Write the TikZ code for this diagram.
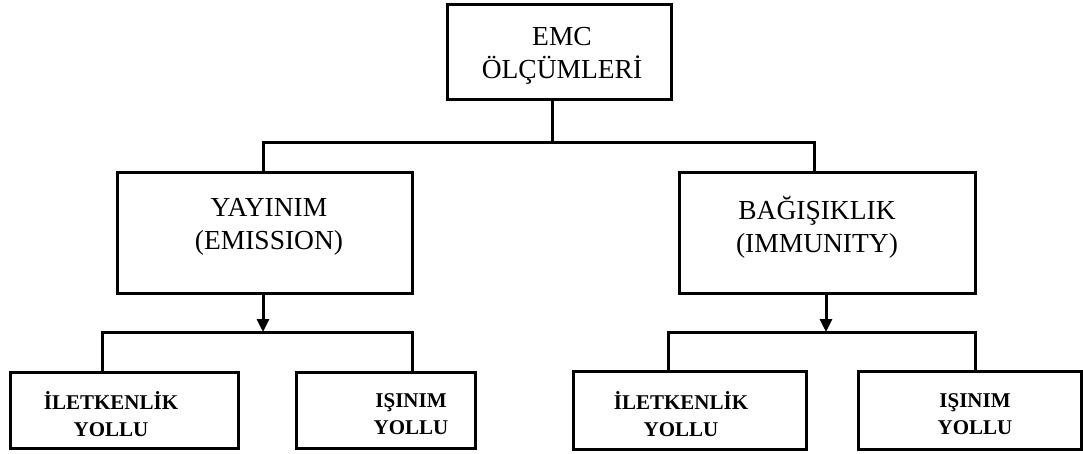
\documentclass[tikz,border=0pt]{standalone}
\usepackage{fontspec}
\setmainfont{Liberation Serif}
\usetikzlibrary{arrows.meta}

\tikzset{
  box/.style={draw=black, line width=3pt, rectangle, inner sep=0pt},
  plain/.style={font=\fontsize{27.5}{33}\selectfont, align=center, inner sep=0pt},
  boldtxt/.style={font=\fontsize{21}{27}\selectfont\bfseries, align=center, inner sep=0pt},
  wire/.style={line width=3pt, line cap=rect},
  arrow/.style={line width=3pt, -{Triangle[width=12pt,length=13pt]}}
}

\begin{document}
\begin{tikzpicture}[x=1pt, y=-1pt]
  \useasboundingbox[fill=white] (0,0) rectangle (1083,454);

  % boxes
  \node[box, minimum width=224pt, minimum height=95pt] (top) at (559,52.5) {};
  \node[box, minimum width=295pt, minimum height=120pt] (ym) at (264.5,233) {};
  \node[box, minimum width=296pt, minimum height=120pt] (rm) at (827,233) {};
  \node[box, minimum width=228pt, minimum height=76pt] (bl1) at (124,410) {};
  \node[box, minimum width=179pt, minimum height=76pt] (bl2) at (385.5,410) {};
  \node[box, minimum width=233pt, minimum height=78pt] (br1) at (689.5,410) {};
  \node[box, minimum width=223pt, minimum height=78pt] (br2) at (969.5,410) {};

  % texts
  \node[plain] (ttop) at (562,56) {EMC\\ÖLÇÜMLERİ};
  \node[plain] (tym) at (269,227) {YAYINIM\\(EMISSION)};
  \node[plain] (trm) at (817,227) {BAĞIŞIKLIK\\(IMMUNITY)};
  \node[boldtxt] (tbl1) at (111,414) {İLETKENLİK\\YOLLU};
  \node[boldtxt] (tbl2) at (411,414) {IŞINIM\\YOLLU};
  \node[boldtxt] (tbr1) at (681,414) {İLETKENLİK\\YOLLU};
  \node[boldtxt] (tbr2) at (975,414) {IŞINIM\\YOLLU};

  % bus junctions
  \coordinate (drop) at (552,143);
  \coordinate (busL) at (263,143);
  \coordinate (busR) at (814,143);
  \coordinate (aL) at (263,332);
  \coordinate (lbL) at (102,332);
  \coordinate (lbR) at (412,332);
  \coordinate (aR) at (826,332);
  \coordinate (rbL) at (668,332);
  \coordinate (rbR) at (975,332);

  % top level split
  \draw[wire] (top.south -| drop) -- (drop);
  \draw[wire] (ym.north -| busL) -- (busL) -- (busR) -- (rm.north -| busR);

  % emission branch
  \draw[arrow] (ym.south -| aL) -- (aL);
  \draw[wire] (bl1.north -| lbL) -- (lbL) -- (lbR) -- (bl2.north -| lbR);

  % immunity branch
  \draw[arrow] (rm.south -| aR) -- (aR);
  \draw[wire] (br1.north -| rbL) -- (rbL) -- (rbR) -- (br2.north -| rbR);
\end{tikzpicture}
\end{document}
